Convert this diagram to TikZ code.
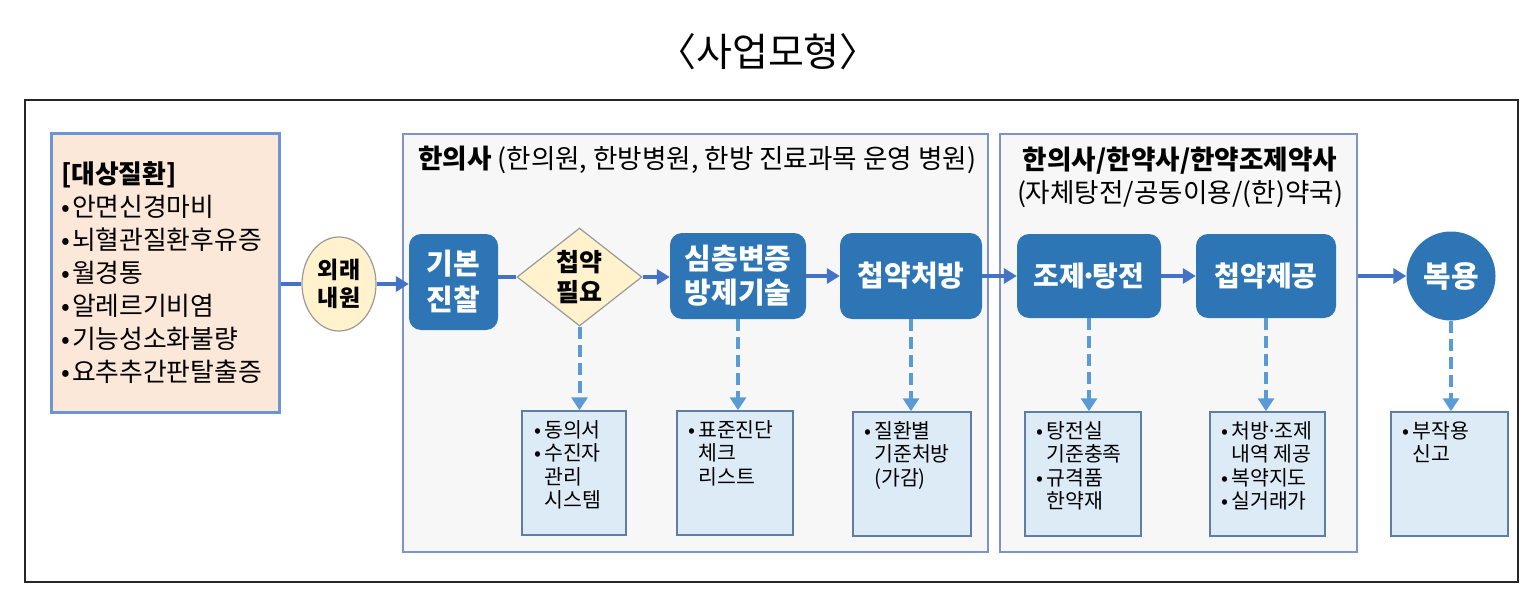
\documentclass[tikz,border=0pt]{standalone}
\usepackage{fontspec}
\setmainfont{Noto Sans CJK KR}
\usetikzlibrary{shapes.geometric,arrows.meta}
\definecolor{nodeblue}{HTML}{2E75B6}
\definecolor{flowblue}{HTML}{4472C4}
\definecolor{dashblue}{HTML}{5B9BD5}
\definecolor{peach}{HTML}{FCE8D8}
\definecolor{peachborder}{HTML}{6C95D4}
\definecolor{regionfill}{HTML}{F7F7F7}
\definecolor{regionborder}{HTML}{7C93CC}
\definecolor{notefill}{HTML}{DDEBF7}
\definecolor{noteborder}{HTML}{5E7FA3}
\definecolor{creamfill}{HTML}{FFF2CC}
\definecolor{creamborder}{HTML}{9A9A9A}
\newcommand{\fsz}[2]{\fontsize{#1}{#2}\selectfont}
\newlength{\bulw}
\newcommand{\bitem}[1]{\makebox[\bulw][l]{•}#1}
\newcommand{\bcont}[1]{\hspace*{\bulw}#1}
\newcommand{\mdot}{\makebox[0.28em]{·}}
\begin{document}
\begin{tikzpicture}[x=1pt,y=-1pt,
  region/.style={draw=regionborder, fill=regionfill, line width=1.5pt, inner sep=0pt},
  diseasebox/.style={draw=peachborder, fill=peach, line width=3pt, inner sep=0pt, minimum width=228pt, minimum height=278pt},
  flowbox/.style={fill=nodeblue, rounded corners=12pt, text=white, align=center, inner sep=0pt, font=\fsz{29}{34}\bfseries},
  notebox/.style={draw=noteborder, fill=notefill, line width=1.5pt, inner sep=0pt, minimum height=124pt},
  notetext/.style={anchor=north west, align=left, inner sep=0pt, font=\fsz{20.5}{23.5}\setlength{\bulw}{0.48em}},
  flowline/.style={draw=flowblue, line width=4pt},
  flowarrow/.style={flowline, -{Triangle[length=13pt,width=15pt]}},
  dasharrow/.style={draw=dashblue, line width=4pt, dash pattern=on 12pt off 6pt, -{Triangle[length=13pt,width=16pt]}}
]
\useasboundingbox (0,0) rectangle (1537,591);
\fill[white] (0,0) rectangle (1537,591);

% title
\node[font=\fsz{39}{42}] (title) at (768,52) {〈사업모형〉};

% outer frame
\draw[line width=2pt, draw=black!85] (25,100) rectangle (1518,582);

% regions
\node[region, minimum width=585pt, minimum height=418pt] (reg1) at (695.5,343) {};
\node[region, minimum width=357pt, minimum height=418pt] (reg2) at (1178.5,343) {};
\node[anchor=west, inner sep=0pt, font=\fsz{26.6}{30}] (reg1title) at (418,160) {\textbf{한의사} (한의원, 한방병원, 한방 진료과목 운영 병원)};
\node[align=center, inner sep=0pt, font=\fsz{26.6}{33}] (reg2title) at (1180,177) {\textbf{한의사/한약사/한약조제약사}\\(자체탕전/공동이용/(한)약국)};

% disease box
\node[diseasebox] (disease) at (165,273) {};
\node[anchor=west, align=left, inner sep=0pt, font=\fsz{25.8}{33}\setlength{\bulw}{0.42em}] (diseasetext) at (61,273)
 {\textbf{[대상질환]}\\ \bitem{안면신경마비}\\ \bitem{뇌혈관질환후유증}\\ \bitem{월경통}\\ \bitem{알레르기비염}\\ \bitem{기능성소화불량}\\ \bitem{요추추간판탈출증}};

% oval
\node[ellipse, draw=creamborder, fill=creamfill, line width=1.2pt, minimum width=74pt, minimum height=94pt, inner sep=0pt, align=center, font=\fsz{23}{28}\bfseries] (visit) at (339,284) {외래\\내원};

% flow nodes
\node[flowbox, minimum width=89pt, minimum height=96pt, font=\fsz{29}{36}\bfseries] (basic) at (453.5,282) {기본\\진찰};
\node[diamond, draw=creamborder, fill=creamfill, line width=1.2pt, shape aspect=1.3, minimum width=125pt, minimum height=98pt, inner sep=0pt, align=center, font=\fsz{25}{30}\bfseries] (need) at (579.5,277) {첩약\\필요};
\node[flowbox, minimum width=136pt, minimum height=86pt] (deep) at (738,276) {심층변증\\방제기술};
\node[flowbox, minimum width=142pt, minimum height=86pt] (rx) at (911,276) {첩약처방};
\node[flowbox, minimum width=144pt, minimum height=84pt, font=\fsz{28}{32}\bfseries] (make) at (1089,276) {조제\mdot 탕전};
\node[flowbox, minimum width=140pt, minimum height=84pt, font=\fsz{28}{32}\bfseries] (supply) at (1266,276) {첩약제공};
\node[circle, fill=nodeblue, text=white, minimum size=89pt, inner sep=0pt, font=\fsz{30}{32}\bfseries] (take) at (1451,276) {복용};

% notes
\node[notebox, minimum width=104pt] (n1) at (574,473) {};
\node[notebox, minimum width=116pt] (n2) at (735,473) {};
\node[notebox, minimum width=118pt] (n3) at (912,474) {};
\node[notebox, minimum width=116pt] (n4) at (1083,474) {};
\node[notebox, minimum width=115pt] (n5) at (1267.5,474) {};
\node[notebox, minimum width=117pt] (n6) at (1449.5,474) {};

\node[notetext] (n1t) at ([shift={(13,10)}]n1.north west) {\bitem{동의서}\\ \bitem{수진자}\\ \bcont{관리}\\ \bcont{시스템}};
\node[notetext] (n2t) at ([shift={(12,10)}]n2.north west) {\bitem{표준진단}\\ \bcont{체크}\\ \bcont{리스트}};
\node[notetext] (n3t) at ([shift={(12,10)}]n3.north west) {\bitem{질환별}\\ \bcont{기준처방}\\ \bcont{(가감)}};
\node[notetext] (n4t) at ([shift={(12,10)}]n4.north west) {\bitem{탕전실}\\ \bcont{기준충족}\\ \bitem{규격품}\\ \bcont{한약재}};
\node[notetext] (n5t) at ([shift={(12,10)}]n5.north west) {\bitem{처방\mdot 조제}\\ \bcont{내역 제공}\\ \bitem{복약지도}\\ \bitem{실거래가}};
\node[notetext] (n6t) at ([shift={(12,10)}]n6.north west) {\bitem{부작용}\\ \bcont{신고}};

% solid flow
\draw[flowline] (disease.east |- visit.west) -- (visit.west);
\draw[flowarrow] (visit.east) -- (basic.west |- visit.east);
\draw[flowline] (basic.east |- need.west) -- (need.west);
\draw[flowarrow] (need.east) -- (deep.west |- need.east);
\draw[flowarrow] (deep.east) -- (rx.west);
\draw[flowarrow] (rx.east) -- (make.west);
\draw[flowarrow] (make.east) -- (supply.west);
\draw[flowarrow] (reg2.east |- take.west) -- (take.west);

% dashed
\draw[dasharrow] (need.south) -- (need.south |- n1.north);
\draw[dasharrow] (deep.south) -- (deep.south |- n2.north);
\draw[dasharrow] (rx.south) -- (rx.south |- n3.north);
\draw[dasharrow] (make.south) -- (make.south |- n4.north);
\draw[dasharrow] (supply.south) -- (supply.south |- n5.north);
\draw[dasharrow] (take.south) -- (take.south |- n6.north);
\end{tikzpicture}
\end{document}
